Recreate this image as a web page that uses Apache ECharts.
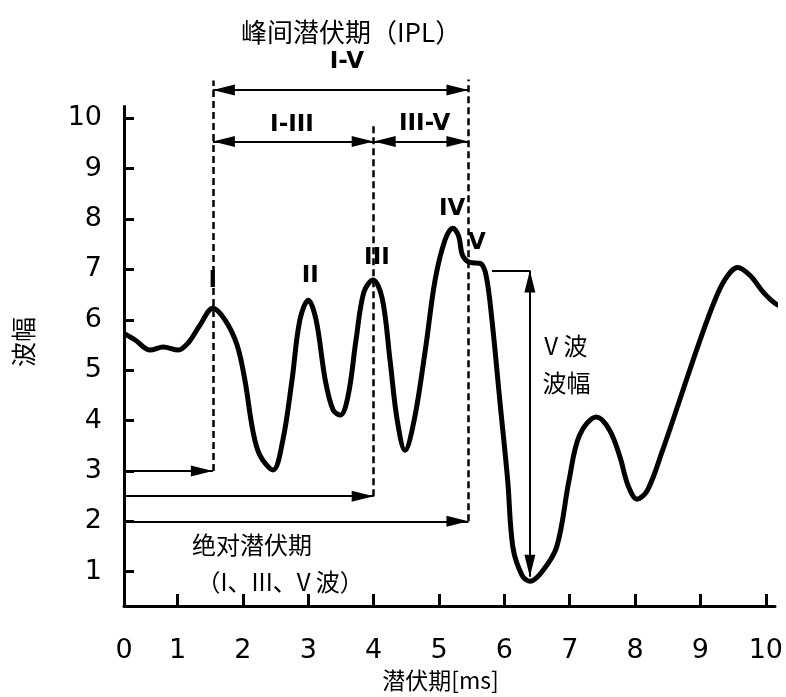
<!DOCTYPE html>
<html><head><meta charset="utf-8">
<script src="https://cdn.jsdelivr.net/npm/echarts@6/dist/echarts.min.js"></script>
<style>html,body{margin:0;padding:0;background:#fff}#c{width:786px;height:697px}</style>
</head><body><div id="c"></div>
<script>
// ---- waveform: latency (ms) and amplitude ----
const latency = [0.18,0.35,0.58,0.78,1.01,1.16,1.34,1.54,1.73,1.91,2.03,2.15,2.26,2.46,2.61,2.75,2.87,3.0,3.12,3.26,3.38,3.49,3.61,3.73,3.85,3.99,4.13,4.25,4.36,4.48,4.62,4.79,4.94,5.09,5.21,5.30,5.36,5.47,5.63,5.72,5.81,5.93,6.05,6.13,6.27,6.39,6.57,6.80,6.99,7.15,7.41,7.61,7.77,7.89,8.03,8.19,8.42,8.68,8.94,9.19,9.37,9.57,9.76,9.96,10.14,10.31];
const amplitude = [5.73,5.60,5.40,5.46,5.40,5.54,5.89,6.23,5.99,5.50,4.80,3.81,3.31,3.02,3.61,4.80,5.99,6.39,5.99,4.80,4.21,4.11,4.50,5.60,6.55,6.79,6.43,5.20,4.01,3.41,4.01,5.40,6.79,7.58,7.82,7.66,7.28,7.14,7.12,6.88,5.99,4.40,2.82,1.49,0.93,0.81,0.99,1.49,2.82,3.71,4.07,3.81,3.27,2.72,2.44,2.62,3.41,4.40,5.40,6.29,6.79,7.04,6.88,6.55,6.33,6.23];

// ---- axes ----
const xTickValues = [1,2,3,4,5,6,7,8,9,10];
const yTickValues = [1,2,3,4,5,6,7,8,9,10];
const xMin = 0.18, xMax = 10.14;
const yMin = 0.32, yAxisTop = 10.26, yRangeMax = 10.8;

// ---- latency markers (waves I, III, V) ----
const markedWaves = ['I','III','V'];
const markedLatency = [1.54, 4.0, 5.45];
const absArrowLevel = [3.0, 2.5, 2.0];
const dashTop = [10.75, 9.92, 10.77];
const iplLevel = 10.56;
const subIplLevel = 9.54;

// ---- V wave amplitude ----
const vAmpX = 6.39, vAmpTop = 6.98, vAmpBottom = 0.90, vRefStart = 5.81;

// ---- text labels ----
const peakLabelText = ['I','II','III','IV','V'];
const peakLabelX = [1.54, 3.03, 4.05, 5.20, 5.58];
const peakLabelY = [6.77, 6.87, 7.22, 8.19, 7.52];
const intervalText = ['I-V','I-III','III-V'];
const intervalX = [3.59, 2.75, 4.78];
const intervalY = [11.11, 9.86, 9.88];
const noteText = ['V 波','波幅','绝对潜伏期','（I、III、V 波）'];
const noteX = [6.94, 6.95, 2.14, 2.57];
const noteY = [5.48, 4.74, 1.53, 0.79];

const black = '#000';
const txt = '#000';
const cjk = '"Noto Sans CJK SC", sans-serif';
const latin = '"DejaVu Sans", sans-serif';
const dashed = {color: black, width: 2.5, type: [7, 4]};
const solid = {color: black, width: 2, type: 'solid'};
const arrowHead = {symbol: 'triangle', symbolSize: [11, 22], symbolOffset: [0, 11]};

function end(coord, arrow, style) {
  const o = {coord: coord, symbol: 'none'};
  if (arrow) Object.assign(o, arrowHead);
  if (style) o.lineStyle = style;
  return o;
}

const markLines = [];
// y axis line (axis range extends above for annotations)
markLines.push([end([xMin, yMin], false, {color: black, width: 3, type: 'solid'}), end([xMin, yAxisTop], false)]);
markedWaves.forEach((w, i) => {
  markLines.push([end([markedLatency[i], absArrowLevel[i]], false, dashed), end([markedLatency[i], dashTop[i]], false)]);
  markLines.push([end([xMin, absArrowLevel[i]], false, solid), end([markedLatency[i], absArrowLevel[i]], true)]);
});
// IPL arrows
markLines.push([end([markedLatency[0], iplLevel], true, solid), end([markedLatency[2], iplLevel], true)]);
markLines.push([end([markedLatency[0], subIplLevel], true, solid), end([markedLatency[1], subIplLevel], true)]);
markLines.push([end([markedLatency[1], subIplLevel], true, solid), end([markedLatency[2], subIplLevel], true)]);
// V amplitude
markLines.push([end([vRefStart, vAmpTop], false, solid), end([vAmpX, vAmpTop], false)]);
markLines.push([end([vAmpX, vAmpTop], true, solid), end([vAmpX, vAmpBottom], true)]);

const textPoints = [];
peakLabelText.forEach((t, i) => textPoints.push({value: [peakLabelX[i], peakLabelY[i]], label: {formatter: t, color: txt, fontFamily: latin, fontWeight: 'bold', fontSize: 23}}));
intervalText.forEach((t, i) => textPoints.push({value: [intervalX[i], intervalY[i]], label: {formatter: t, color: txt, fontFamily: latin, fontWeight: 'bold', fontSize: 23}}));
noteText.forEach((t, i) => textPoints.push({value: [noteX[i], noteY[i]], label: {formatter: t, color: txt, fontFamily: cjk, fontSize: 24}}));

const chart = echarts.init(document.getElementById('c'), null, {renderer: 'canvas'});
chart.setOption({
  animation: false,
  backgroundColor: '#fff',
  title: {
    text: '峰间潜伏期（IPL）', left: 236, top: 14, padding: 5,
    textStyle: {fontFamily: cjk, fontSize: 26, fontWeight: 'normal', color: txt}
  },
  grid: {left: 124, right: 11, top: 78, bottom: 91, containLabel: false},
  xAxis: {
    type: 'value', min: xMin, max: xMax,
    name: '潜伏期[ms]', nameLocation: 'middle', nameGap: 60,
    nameTextStyle: {fontFamily: cjk, fontSize: 23, color: txt, padding: [0, 18, 0, 0]},
    axisLine: {show: true, onZero: false, lineStyle: {color: black, width: 3}},
    axisTick: {show: true, inside: true, length: 12, customValues: xTickValues, lineStyle: {color: black, width: 3}},
    axisLabel: {show: true, customValues: [xMin].concat(xTickValues), margin: 31,
      formatter: v => (v < 0.5 ? '0' : String(Math.round(v))),
      fontFamily: latin, fontSize: 27, color: txt},
    splitLine: {show: false}
  },
  yAxis: {
    type: 'value', min: yMin, max: yRangeMax,
    name: '波幅', nameLocation: 'middle', nameGap: 88, nameRotate: 90,
    nameTextStyle: {fontFamily: cjk, fontSize: 25, color: txt},
    axisLine: {show: false},
    axisTick: {show: true, inside: true, length: 10, customValues: yTickValues, lineStyle: {color: black, width: 3}},
    axisLabel: {show: true, customValues: yTickValues, margin: 22, fontFamily: latin, fontSize: 27, color: txt},
    splitLine: {show: false}
  },
  series: [
    {
      type: 'line', name: 'ABR',
      data: latency.map((x, i) => [x, amplitude[i]]),
      smooth: 0.35, showSymbol: false, clip: false, silent: true,
      lineStyle: {color: black, width: 5},
      markLine: {
        silent: true, symbol: ['none', 'none'], label: {show: false},
        emphasis: {disabled: true}, animation: false,
        data: markLines
      }
    },
    {
      type: 'scatter', name: 'labels', clip: false, silent: true,
      symbolSize: 1, itemStyle: {color: 'rgba(0,0,0,0)', opacity: 1},
      label: {show: true, position: 'inside', color: txt},
      data: textPoints
    }
  ]
});
</script></body></html>
